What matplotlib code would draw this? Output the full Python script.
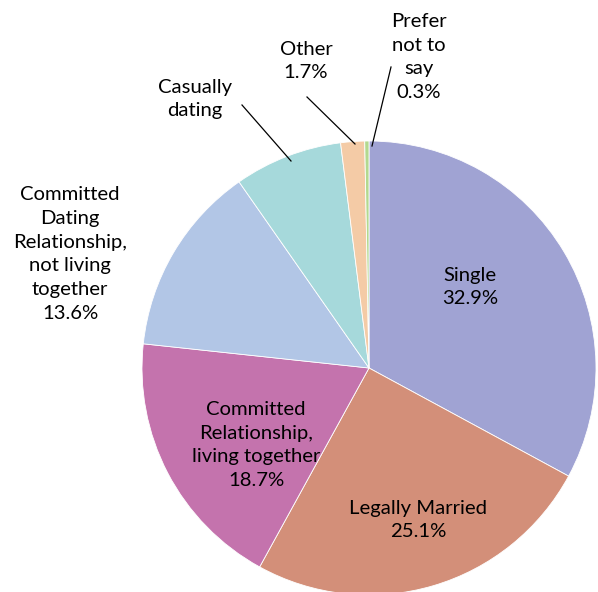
import matplotlib
matplotlib.use("Agg")
import matplotlib.pyplot as plt

categories = [
    "Single",
    "Legally Married",
    "Committed\nRelationship,\nliving together",
    "Committed\nDating\nRelationship,\nnot living\ntogether",
    "Casually\ndating",
    "Other",
    "Prefer\nnot to\nsay",
]
shares = [32.9, 25.1, 18.7, 13.6, 7.7, 1.7, 0.3]
show_pct = [True, True, True, True, False, True, True]
colors = ["#A0A3D3", "#D38F79", "#C473AD", "#B2C6E6", "#A6D9DB", "#F4CBA6", "#B3D98F"]

W, H = 598, 592
fig = plt.figure(figsize=(W / 100, H / 100), dpi=100)
ax = fig.add_axes([0, 0, 1, 1])

cx, cy, r = 369, H - 368, 227
wedges, _ = ax.pie(shares, colors=colors, startangle=90, counterclock=False,
                   center=(cx, cy), radius=r,
                   wedgeprops=dict(linewidth=0.6, edgecolor="white"))
ax.set_xlim(0, W)
ax.set_ylim(0, H)
ax.set_aspect("equal")
ax.axis("off")

# label anchor points (pixel coords from the top-left) and optional leader lines
label_pos = [(470, 287), (418, 520), (256, 445), (70, 254), (195, 99), (306, 61), (419, 57)]
leaders = [None, None, None, None, ((242, 105), (291, 161)), ((307, 97), (355, 144)),
           ((391, 67), (372, 146))]

font = ["Lato", "DejaVu Sans"]
for cat, val, pct, (px, py), lead in zip(categories, shares, show_pct, label_pos, leaders):
    txt = f"{cat}\n{val:.1f}%" if pct else cat
    ax.text(px, H - py, txt, ha="center", va="center", fontsize=14.6,
            family=font, color="black", linespacing=1.49)
    if lead is not None:
        (x0, y0), (x1, y1) = lead
        ax.plot([x0, x1], [H - y0, H - y1], color="black", lw=0.9)

fig.savefig("out.png", dpi=100)
